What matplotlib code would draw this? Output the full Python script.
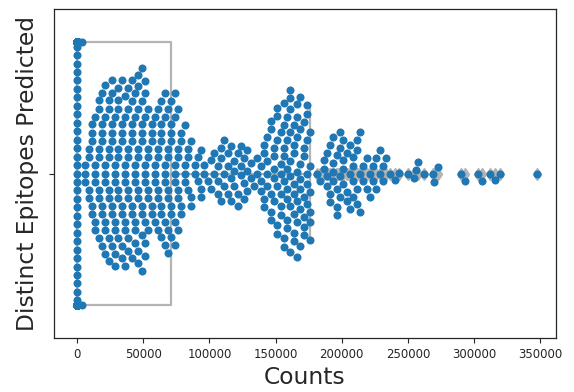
import warnings
warnings.filterwarnings("ignore")
import matplotlib
matplotlib.use("Agg")
import matplotlib.pyplot as plt
import numpy as np
import seaborn as sns

# Distinct count values (thousands) and number of records having each value
count_values_k = [
    0, 1.25, 3.75, 6.25, 8.75, 11.25, 13.75, 16.25, 18.75,
    21.25, 23.75, 26.25, 28.75, 31.25, 33.75, 36.25, 38.75, 41.25, 43.75,
    46.25, 48.75, 51.25, 53.75, 56.25, 58.75, 61.25, 63.75, 66.25, 68.75,
    71.25, 73.75, 76.25, 78.75, 81.25, 83.75, 86.25, 88.75, 91.25, 93.75,
    96.25, 98.75, 101.25, 103.75, 106.25, 108.75, 111.25, 113.75, 116.25, 118.75,
    121.25, 123.75, 126.25, 128.75, 131.25, 133.75, 136.25, 138.75, 141.25, 143.75,
    146.25, 148.75, 151.25, 153.75, 156.25, 158.75, 161.25, 163.75, 166.25, 168.75,
    171.25, 173.75, 176.25, 181.25, 183.75, 186.25, 188.75, 191.25, 193.75, 196.25,
    198.75, 201.25, 203.75, 206.25, 208.75, 211.25, 213.75, 216.25, 218.75, 221.25,
    223.75, 226.25, 228.75, 231.25, 233.75, 236.25,
    240, 243, 250, 255, 256, 258, 262, 269, 270, 273,
    290, 293, 303, 306, 312, 316, 320, 348,
]
n_records = [
    568, 1, 2, 3, 4, 5, 6, 7, 7,
    8, 8, 8, 8, 8, 8, 8, 8, 8, 8,
    9, 9, 9, 6, 5, 5, 6, 7, 7, 7,
    7, 7, 6, 4, 4, 3, 3, 2, 2, 3,
    2, 1, 2, 2, 3, 3, 3, 3, 3, 3,
    3, 3, 3, 3, 2, 1, 2, 3, 4, 4,
    5, 5, 6, 6, 7, 7, 8, 8, 7, 7,
    7, 6, 6, 1, 1, 2, 3, 3, 4, 4,
    4, 4, 3, 3, 4, 4, 3, 2, 2, 2,
    2, 2, 2, 2, 1, 1,
    1, 1, 1, 1, 1, 1, 1, 1, 1, 1,
    1, 1, 1, 1, 1, 1, 1, 1,
]

counts = np.repeat(np.array(count_values_k, dtype=float) * 1000.0, n_records)

W, H = 574, 392
fig = plt.figure(figsize=(W / 100, H / 100), dpi=100)
ax = fig.add_axes([54 / W, 1 - 338 / H, (556 - 54) / W, (338 - 9) / H])

gray = "#b4b4b4"
lw = 1.6
bp_kw = dict(
    positions=[0], widths=0.8, whis=1.5, patch_artist=False,
    boxprops=dict(color=gray, linewidth=lw),
    whiskerprops=dict(color=gray, linewidth=lw),
    capprops=dict(color=gray, linewidth=lw),
    medianprops=dict(color=gray, linewidth=lw),
    flierprops=dict(marker="d", markerfacecolor=gray, markeredgecolor=gray,
                    markersize=6),
    zorder=1,
)
try:
    ax.boxplot(counts, orientation="horizontal", **bp_kw)
except TypeError:
    ax.boxplot(counts, vert=False, **bp_kw)

sns.swarmplot(x=counts, ax=ax, size=5.8, color="#1f77b4", zorder=3)

ax.set_ylim(0.5, -0.5)
ax.set_xlim(-17500, 362000)
ax.set_xticks([0, 50000, 100000, 150000, 200000, 250000, 300000, 350000])
ax.set_xticklabels(["0", "50000", "100000", "150000", "200000", "250000",
                    "300000", "350000"])
ax.set_yticks([0])
ax.set_yticklabels([""])
ax.tick_params(axis="both", labelsize=8.5, colors="#262626")
for s in ax.spines.values():
    s.set_color("#262626")
    s.set_linewidth(0.9)

ax.set_xlabel("Counts", fontsize=16.8, color="#262626")
ax.set_ylabel("Distinct Epitopes Predicted", fontsize=16.8, color="#262626")

fig.savefig("out.png", dpi=100)
